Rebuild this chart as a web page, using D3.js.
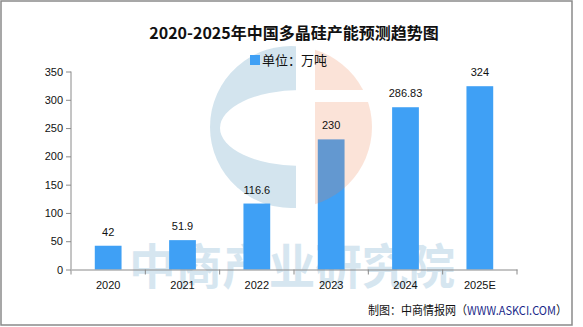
<!DOCTYPE html>
<html><head><meta charset="utf-8">
<script src="https://cdn.jsdelivr.net/npm/d3@7/dist/d3.min.js"></script>
<style>body{margin:0;background:#fff}svg{display:block}</style>
</head><body>
<script>
const categories = ["2020","2021","2022","2023","2024","2025E"];
const values = [42, 51.9, 116.6, 230, 286.83, 324];
const valueLabels = ["42","51.9","116.6","230","286.83","324"];
const yTicks = [0,50,100,150,200,250,300,350];
const title = "2020-2025年中国多晶硅产能预测趋势图";
const legendLabel = "单位：万吨";
const watermark = "中商产业研究院";

const W = 583, H = 327;
const svg = d3.select("body").append("svg").attr("width", W).attr("height", H);
svg.append("rect").attr("width", W).attr("height", H).attr("fill", "#fff");
svg.append("rect").attr("x", 1).attr("y", 1).attr("width", 571).attr("height", 324)
  .attr("fill", "none").attr("stroke", "#8a8a8a").attr("stroke-width", 1.5);

const x = d3.scaleBand().domain(categories).range([71, 517]).paddingInner(0.64).paddingOuter(0.32);
const y = d3.scaleLinear().domain([0, 350]).range([269.5, 71.5]);

// watermark logo (background)
const cx = 291, cy = 127, R = 81;
const logo = svg.append("g");
const dx0 = 300 - cx, dy0 = Math.sqrt(R*R - dx0*dx0);
logo.append("path")
  .attr("d", `M300,${cy-dy0} A${R},${R} 0 1 0 300,${cy+dy0} Z`)
  .attr("fill", "#d3e4ee");
logo.append("ellipse").attr("cx", 300).attr("cy", 128).attr("rx", 80).attr("ry", 38).attr("fill", "#fff");
logo.append("rect").attr("x", 296).attr("y", 40).attr("width", 19).attr("height", 180).attr("fill", "#fff");

svg.append("text").attr("x", 129).attr("y", 284).attr("textLength", 326).attr("lengthAdjust", "spacingAndGlyphs")
  .attr("font-family", "Noto Sans CJK SC").attr("font-weight", "bold").attr("font-size", 48)
  .attr("fill", "#d6e6f0").text(watermark);

// bars
svg.append("g").selectAll("rect").data(values).join("rect")
  .attr("x", (d,i) => x(categories[i])).attr("width", x.bandwidth())
  .attr("y", d => y(d)).attr("height", d => y(0) - y(d))
  .attr("fill", "#3fa0f5");

// peach half (over bars, translucent)
const peachClip = svg.append("defs").append("clipPath").attr("id", "pc");
peachClip.append("rect").attr("x", 315).attr("y", 0).attr("width", 200).attr("height", 90);
peachClip.append("rect").attr("x", 315).attr("y", 102).attr("width", 200).attr("height", 200);
svg.append("circle").attr("cx", cx).attr("cy", cy).attr("r", R)
  .attr("clip-path", "url(#pc)").attr("fill", "#ec7c49").attr("fill-opacity", 0.21);

// axes
const axisColor = "#8a8a8a";
const yAxis = svg.append("g").attr("transform", "translate(71,0)")
  .call(d3.axisLeft(y).tickValues(yTicks).tickSize(5).tickPadding(3));
const xAxis = svg.append("g").attr("transform", `translate(0,${y(0)})`)
  .call(d3.axisBottom(x).tickSize(0).tickPadding(12));
[yAxis, xAxis].forEach(g => {
  g.selectAll("path,line").attr("stroke", axisColor);
  g.selectAll("text").attr("font-family", "Liberation Sans, Arial").attr("font-size", 11).attr("fill", "#111");
});
yAxis.select(".domain").attr("d", `M0,${y(0)}V${y(350)}`);
const step = x.step();
const bounds = d3.range(categories.length + 1).map(i => 71 + i * step);
svg.append("g").selectAll("line").data(bounds).join("line")
  .attr("x1", d => d).attr("x2", d => d).attr("y1", y(0)).attr("y2", y(0) + 5)
  .attr("stroke", axisColor);

// value labels
svg.append("g").selectAll("text").data(values).join("text")
  .attr("x", (d,i) => x(categories[i]) + x.bandwidth()/2).attr("y", d => y(d) - 10)
  .attr("text-anchor", "middle").attr("font-family", "Liberation Sans, Arial").attr("font-size", 11)
  .attr("fill", "#111").text((d,i) => valueLabels[i]);

// title
svg.append("text").attr("x", 294).attr("y", 39).attr("text-anchor", "middle")
  .attr("font-family", "Noto Sans CJK SC").attr("font-weight", "bold").attr("font-size", 16)
  .attr("fill", "#111").text(title);

// legend
svg.append("rect").attr("x", 250).attr("y", 55).attr("width", 10).attr("height", 10).attr("fill", "#3fa0f5");
svg.append("text").attr("x", 262).attr("y", 65).attr("font-family", "Noto Sans CJK SC").attr("font-size", 13)
  .attr("fill", "#111").text(legendLabel);

// source
const src = svg.append("text").attr("x", 368).attr("y", 315)
  .attr("textLength", 199).attr("lengthAdjust", "spacingAndGlyphs")
  .attr("font-family", "Noto Sans CJK SC").attr("font-size", 12).attr("fill", "#111");
src.append("tspan").text("制图：中商情报网（");
src.append("tspan").attr("fill", "#1b2a8a").text("WWW.ASKCI.COM");
src.append("tspan").text("）");
</script>
</body></html>
